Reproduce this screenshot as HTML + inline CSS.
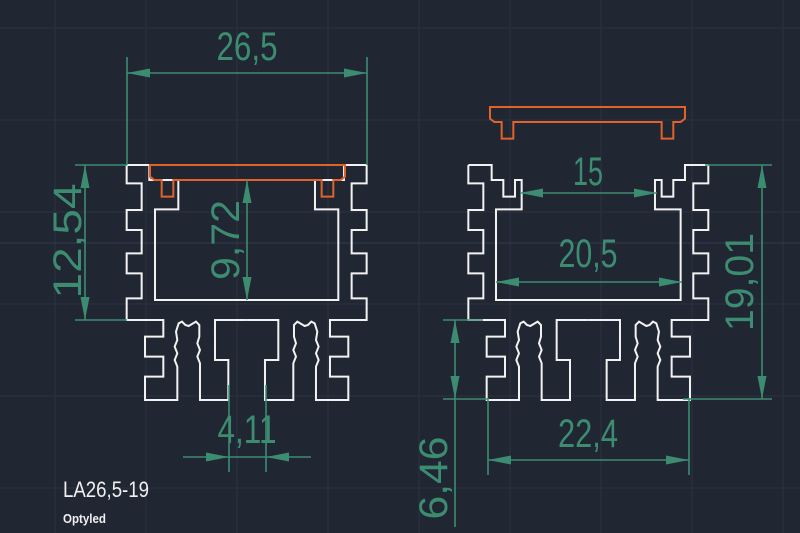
<!DOCTYPE html>
<html><head><meta charset="utf-8"><style>
html,body{margin:0;padding:0;background:#212732;}
svg{display:block}
text{font-family:"Liberation Sans",sans-serif;}
</style></head><body>
<svg width="800" height="533" viewBox="0 0 800 533" xmlns="http://www.w3.org/2000/svg">
<rect width="800" height="533" fill="#212732"/>
<g stroke="#2b3140" stroke-width="1">
<line x1="55" y1="0" x2="55" y2="533"/><line x1="146" y1="0" x2="146" y2="533"/><line x1="237" y1="0" x2="237" y2="533"/><line x1="328" y1="0" x2="328" y2="533"/><line x1="419" y1="0" x2="419" y2="533"/><line x1="510" y1="0" x2="510" y2="533"/><line x1="601" y1="0" x2="601" y2="533"/><line x1="692" y1="0" x2="692" y2="533"/><line x1="783" y1="0" x2="783" y2="533"/>
<line x1="0" y1="28" x2="800" y2="28"/><line x1="0" y1="120" x2="800" y2="120"/><line x1="0" y1="212" x2="800" y2="212"/><line x1="0" y1="243" x2="800" y2="243" stroke="#343a4c"/><line x1="0" y1="304" x2="800" y2="304"/><line x1="0" y1="396" x2="800" y2="396"/><line x1="0" y1="488" x2="800" y2="488"/>
</g>

<defs>
<path id="half" d="M80,45 L80,100 L125,100 L125,180 L80,180 L80,240 L125,240 L125,310 L80,310 L80,370 L125,370 L125,445 L80,445 L80,510 L190,510 L190,560 L135,560 L135,620 L190,620 L190,680 L135,680 L135,750 L232,750 L232,650 L224,630 L232,610 L224,590 L232,570 L228,545 L236,520 L246,515 L256,525 L266,528 L276,522 L288,515 L298,525 L298,560 L292,580 L300,600 L292,620 L300,640 L300,750 L385,750 L385,630 L345,630 L345,510 L440,510"/>
<path id="capA" d="M150,45 L735,45 L735,80 L722,90 L700,90 L700,140 L665,140 L665,90 L220,90 L220,140 L185,140 L185,90 L163,90 L150,80 Z"/>
</defs>

<g fill="none" stroke="#f2f2f2" stroke-width="2" stroke-linejoin="miter">
<!-- left profile -->
<g transform="translate(100,150) scale(0.3333)">
<use href="#half" vector-effect="non-scaling-stroke"/>
<g transform="translate(880,0) scale(-1,1)"><use href="#half"/></g>
<path d="M440,450 L165,450 L165,178 L235,178 L235,90 L148,90 L148,45 L80,45 M440,450 L715,450 L715,178 L645,178 L645,90 L732,90 L732,45 L800,45"/>
</g>
<!-- right profile -->
<g transform="translate(441.67,150) scale(0.3333)">
<use href="#half"/>
<g transform="translate(880,0) scale(-1,1)"><use href="#half"/></g>
<path d="M80,45 L150,45 L150,90 L185,90 L185,140 L220,140 L220,90 L240,90 L240,178 L163,178 L163,450 L717,450 L717,178 L640,178 L640,90 L660,90 L660,140 L695,140 L695,90 L730,90 L730,45 L800,45"/>
</g>
</g>
<style>use,path{vector-effect:non-scaling-stroke}</style>

<g fill="none" stroke="#e2622a" stroke-width="2">
<g transform="translate(100,150) scale(0.3333)"><use href="#capA"/></g>
<g transform="translate(440,92) scale(0.3333)"><use href="#capA"/></g>
</g>

<g stroke="#3c8c72" stroke-width="1.6" fill="none">
<!-- 26,5 -->
<line x1="127" y1="57" x2="127" y2="165"/><line x1="367" y1="57" x2="367" y2="165"/><line x1="127" y1="73" x2="367" y2="73"/>
<!-- 12,54 -->
<line x1="75" y1="165" x2="127" y2="165"/><line x1="75" y1="320" x2="127" y2="320"/><line x1="85" y1="165" x2="85" y2="320"/>
<!-- 9,72 -->
<line x1="247" y1="180" x2="247" y2="300"/>
<!-- 4,11 -->
<line x1="229" y1="385" x2="229" y2="472"/><line x1="266" y1="385" x2="266" y2="472"/><line x1="183" y1="457" x2="311" y2="457"/>
<!-- 15 -->
<line x1="520" y1="193" x2="657" y2="193"/>
<!-- 20,5 -->
<line x1="496" y1="282" x2="682" y2="282"/>
<!-- 22,4 -->
<line x1="488" y1="398" x2="488" y2="475"/><line x1="689" y1="398" x2="689" y2="475"/><line x1="488" y1="460" x2="689" y2="460"/>
<!-- 6,46 -->
<line x1="443" y1="320" x2="483" y2="320"/><line x1="443" y1="399" x2="488" y2="399"/><line x1="455" y1="320" x2="455" y2="527"/>
<!-- 19,01 -->
<line x1="705" y1="165" x2="772" y2="165"/><line x1="683" y1="399" x2="772" y2="399"/><line x1="762" y1="165" x2="762" y2="399"/>
</g>
<g fill="#3c8c72">
<polygon points="127,73 150,68.5 150,77.5"/><polygon points="367,73 344,68.5 344,77.5"/>
<polygon points="85,165 80.5,188 89.5,188"/><polygon points="85,320 80.5,297 89.5,297"/>
<polygon points="247,180 242.5,203 251.5,203"/><polygon points="247,300 242.5,277 251.5,277"/>
<polygon points="229,457 206,452.5 206,461.5"/><polygon points="266,457 289,452.5 289,461.5"/>
<polygon points="520,193 543,188.5 543,197.5"/><polygon points="657,193 634,188.5 634,197.5"/>
<polygon points="496,282 519,277.5 519,286.5"/><polygon points="682,282 659,277.5 659,286.5"/>
<polygon points="488,460 511,455.5 511,464.5"/><polygon points="689,460 666,455.5 666,464.5"/>
<polygon points="455,320 450.5,343 459.5,343"/><polygon points="455,399 450.5,376 459.5,376"/>
<polygon points="762,165 757.5,188 766.5,188"/><polygon points="762,399 757.5,376 766.5,376"/>
</g>

<g fill="#3c8c72" font-size="40" text-anchor="middle">
<text x="247" y="60" textLength="61" lengthAdjust="spacingAndGlyphs">26,5</text>
<text x="247" y="443" textLength="59" lengthAdjust="spacingAndGlyphs">4,11</text>
<text x="588" y="185" textLength="30" lengthAdjust="spacingAndGlyphs">15</text>
<text x="588" y="267" textLength="59" lengthAdjust="spacingAndGlyphs">20,5</text>
<text x="588" y="447" textLength="60" lengthAdjust="spacingAndGlyphs">22,4</text>
<text transform="translate(67,241) rotate(-90)" x="0" y="14" textLength="115" lengthAdjust="spacingAndGlyphs">12,54</text>
<text transform="translate(225,240) rotate(-90)" x="0" y="14" textLength="80" lengthAdjust="spacingAndGlyphs">9,72</text>
<text transform="translate(739,282) rotate(-90)" x="0" y="14" textLength="98" lengthAdjust="spacingAndGlyphs">19,01</text>
<text transform="translate(433,478) rotate(-90)" x="0" y="14" textLength="83" lengthAdjust="spacingAndGlyphs">6,46</text>
</g>
<text x="63" y="497" fill="#f0f0f0" font-size="22" textLength="86" lengthAdjust="spacingAndGlyphs">LA26,5-19</text>
<text x="63" y="523" fill="#f0f0f0" font-size="13" font-weight="bold" textLength="43" lengthAdjust="spacingAndGlyphs">Optyled</text>
</svg>
</body></html>
